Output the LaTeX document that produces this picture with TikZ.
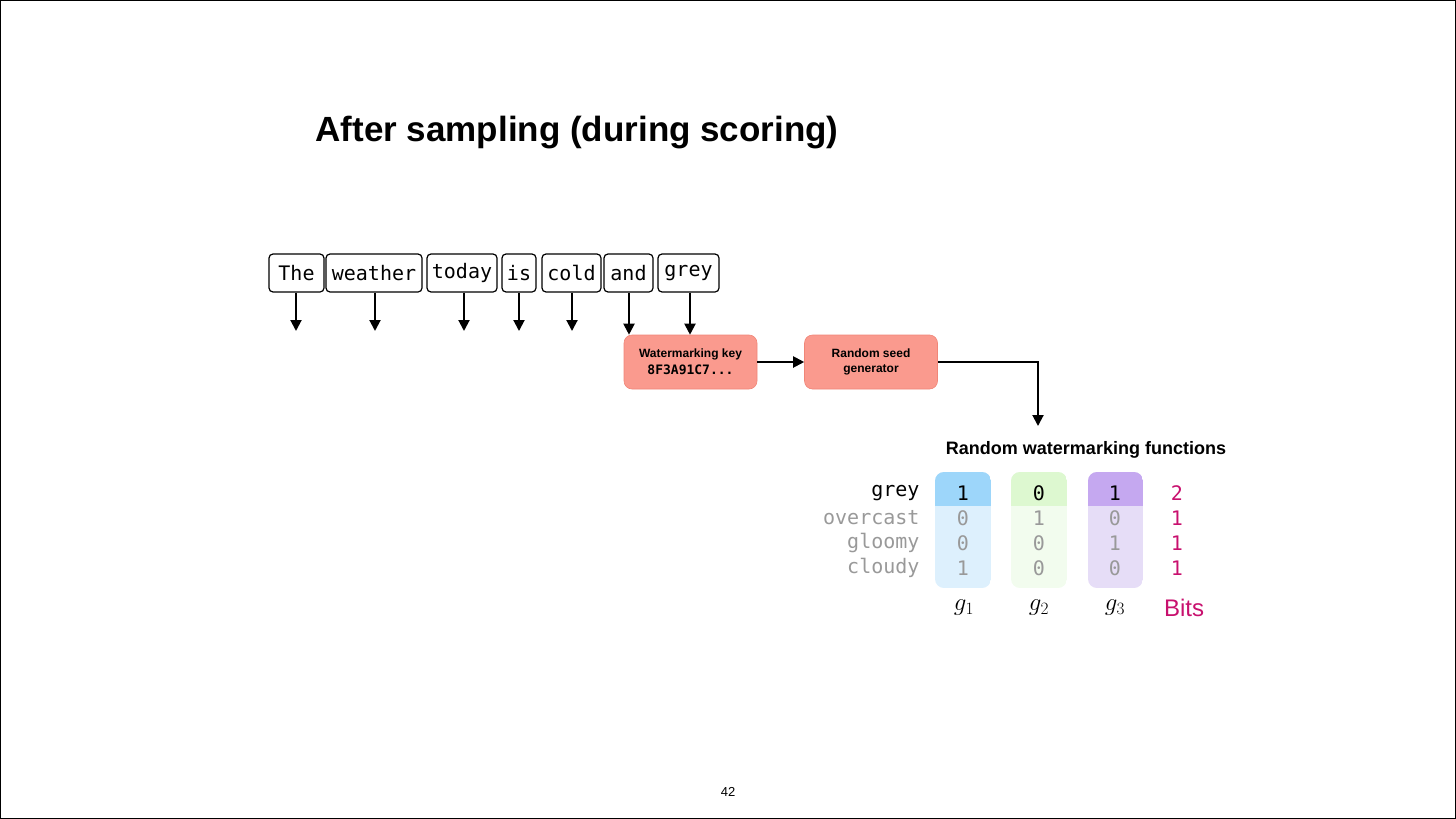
\documentclass[tikz,border=0pt]{standalone}
\usepackage{fontspec}
\setmainfont{Liberation Sans}
\newfontfamily\monof{DejaVu Sans Mono}
\usetikzlibrary{arrows.meta}
\definecolor{salmon}{HTML}{FA9A8E}
\definecolor{salmonb}{HTML}{F08678}
\definecolor{btop}{HTML}{9DD6FA}\definecolor{bbot}{HTML}{DDF0FD}
\definecolor{gtop}{HTML}{DDF8D0}\definecolor{gbot}{HTML}{F2FCEE}
\definecolor{ptop}{HTML}{C5A8F0}\definecolor{pbot}{HTML}{E6DDF7}
\definecolor{bits}{HTML}{C8106E}
\definecolor{dim}{HTML}{999999}
\begin{document}
\begin{tikzpicture}[x=1pt,y=-1pt,
  tok/.style={draw,line width=1.2pt,rounded corners=4pt,minimum height=38pt,inner sep=0pt,font=\monof\fontsize{20}{20}\selectfont},
  box/.style={fill=salmon,draw=salmonb,line width=0.6pt,rounded corners=8pt,minimum width=133pt,minimum height=54pt,align=center,font=\bfseries\fontsize{12}{15}\selectfont},
  arr/.style={line width=2pt,-{Triangle[length=11pt,width=11pt]}},
  wd/.style={anchor=east,font=\monof\fontsize{20}{20}\selectfont},
  num/.style={font=\monof\fontsize{20}{20}\selectfont},
  gl/.style={font=\fontsize{24}{24}\selectfont}]
\draw[line width=1pt] (0.5,0.5) rectangle (1455.5,818.5);
\useasboundingbox (0,0) rectangle (1456,819);
\node[anchor=west,font=\bfseries\fontsize{35}{35}\selectfont] (title) at (312,133) {After sampling (during scoring)};
\foreach \n/\a/\b/\t in {t1/269/324/The,t2/326/422/weather,t3/427/497/today,t4/502/536/is,t5/542/601/cold,t6/604/653/and,t7/658/719/grey}{
  \node[tok,minimum width={\b-\a}] (\n) at ({(\a+\b)/2},273) {\t};
}
\node[box] (key) at (690.5,362) {Watermarking key\\[2pt]{\monof\fontsize{13}{13}\selectfont 8F3A91C7...}};
\node[box] (seed) at (871,362) {Random seed\\generator};
\foreach \n/\x in {t1/296,t2/375,t3/464,t4/519,t5/572}{
  \coordinate (e\n) at (\x,331);
  \draw[arr] (\n.south -| e\n) -- (e\n);
}
\draw[arr] (t6.south -| 629,0) -- (key.north -| 629,0);
\draw[arr] (t7.south -| 690,0) -- (key.north -| 690,0);
\draw[arr] (key) -- (seed);
\coordinate (fend) at (1038,426);
\draw[arr] (seed.east) -| (fend);
\node[font=\bfseries\fontsize{18}{18}\selectfont] (rwf) at (1086,450) {Random watermarking functions};
\foreach \c/\a/\b/\t/\bt in {c1/935/991/btop/bbot,c2/1011/1067/gtop/gbot,c3/1088/1143/ptop/pbot}{
  \begin{scope}
    \clip[rounded corners=9pt] (\a,472) rectangle (\b,588);
    \fill[\bt] (\a,472) rectangle (\b,588);
    \fill[\t] (\a,472) rectangle (\b,506);
  \end{scope}
}
\node[wd] (w1) at (923,493) {grey};
\node[wd,dim] (w2) at (923,518) {overcast};
\node[wd,dim] (w3) at (923,543) {gloomy};
\node[wd,dim] (w4) at (923,568) {cloudy};
\node[num] (a1) at (963,493) {1};\node[num] (b1) at (1039,493) {0};\node[num] (c1) at (1115,493) {1};
\node[num,dim] (a2) at (963,518) {0};\node[num,dim] (b2) at (1039,518) {1};\node[num,dim] (c2) at (1115,518) {0};
\node[num,dim] (a3) at (963,543) {0};\node[num,dim] (b3) at (1039,543) {0};\node[num,dim] (c3) at (1115,543) {1};
\node[num,dim] (a4) at (963,568) {1};\node[num,dim] (b4) at (1039,568) {0};\node[num,dim] (c4) at (1115,568) {0};
\node[num,bits] (d1) at (1177,493) {2};
\node[num,bits] (d2) at (1177,518) {1};
\node[num,bits] (d3) at (1177,543) {1};
\node[num,bits] (d4) at (1177,568) {1};
\node[gl] (g1) at (964,608) {$g_1$};
\node[gl] (g2) at (1039,608) {$g_2$};
\node[gl] (g3) at (1115,608) {$g_3$};
\node[bits,font=\fontsize{24}{24}\selectfont] (bl) at (1184,608) {Bits};
\node[font=\fontsize{13}{13}\selectfont] (pg) at (728,792) {42};
\end{tikzpicture}
\end{document}
